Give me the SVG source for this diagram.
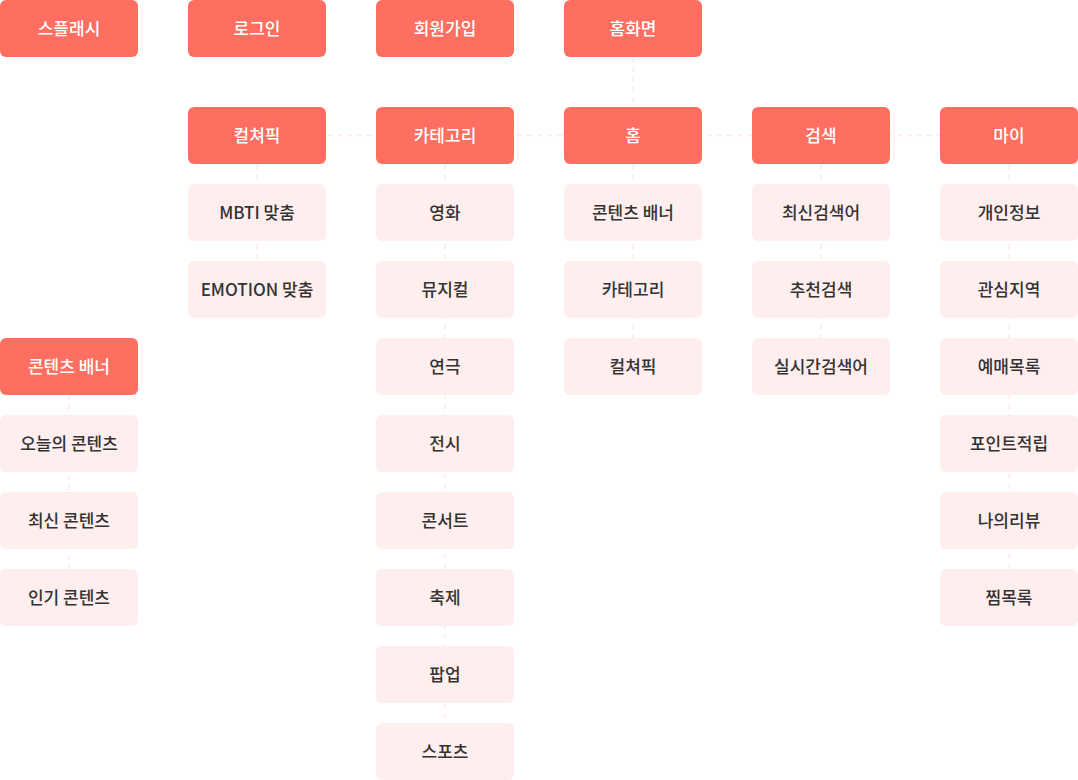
<svg xmlns="http://www.w3.org/2000/svg" width="1078" height="780" viewBox="0 0 1078 780">
<style>
.h rect{fill:#FF6F61}
.s rect{fill:#FFEEEE}
.h text{fill:#FFFFFF}
.s text{fill:#333333}
text{font-family:"Noto Sans CJK KR","Noto Sans",sans-serif;font-size:17px;font-weight:500;text-anchor:middle;dominant-baseline:central}
.c line{stroke:#FDEAE8;stroke-width:1.5;stroke-dasharray:5 5;fill:none}
</style>
<rect width="1078" height="780" fill="#FFFFFF"/>
<g class="c" id="connectors">
<line x1="257" y1="135.5" x2="1009" y2="135.5"/>
<line x1="633" y1="57" x2="633" y2="107"/>
<line x1="257" y1="164" x2="257" y2="261"/>
<line x1="445" y1="164" x2="445" y2="723"/>
<line x1="633" y1="164" x2="633" y2="338"/>
<line x1="821" y1="164" x2="821" y2="338"/>
<line x1="1009" y1="164" x2="1009" y2="569"/>
<line x1="69" y1="395" x2="69" y2="569"/>
</g>
<g id="n-splash" class="h"><rect x="0" y="0" width="138" height="57" rx="6"/><text x="69" y="27">스플래시</text></g>
<g id="n-login" class="h"><rect x="188" y="0" width="138" height="57" rx="6"/><text x="257" y="27">로그인</text></g>
<g id="n-signup" class="h"><rect x="376" y="0" width="138" height="57" rx="6"/><text x="445" y="27">회원가입</text></g>
<g id="n-homescreen" class="h"><rect x="564" y="0" width="138" height="57" rx="6"/><text x="633" y="27">홈화면</text></g>

<g id="n-culture" class="h"><rect x="188" y="107" width="138" height="57" rx="6"/><text x="257" y="134">컬쳐픽</text></g>
<g id="n-category" class="h"><rect x="376" y="107" width="138" height="57" rx="6"/><text x="445" y="134">카테고리</text></g>
<g id="n-home" class="h"><rect x="564" y="107" width="138" height="57" rx="6"/><text x="633" y="134">홈</text></g>
<g id="n-search" class="h"><rect x="752" y="107" width="138" height="57" rx="6"/><text x="821" y="134">검색</text></g>
<g id="n-my" class="h"><rect x="940" y="107" width="138" height="57" rx="6"/><text x="1009" y="134">마이</text></g>

<g id="n-mbti" class="s"><rect x="188" y="184" width="138" height="57" rx="6"/><text x="257" y="211">MBTI 맞춤</text></g>
<g id="n-emotion" class="s"><rect x="188" y="261" width="138" height="57" rx="6"/><text x="257" y="288">EMOTION 맞춤</text></g>

<g id="n-movie" class="s"><rect x="376" y="184" width="138" height="57" rx="6"/><text x="445" y="211">영화</text></g>
<g id="n-musical" class="s"><rect x="376" y="261" width="138" height="57" rx="6"/><text x="445" y="288">뮤지컬</text></g>
<g id="n-play" class="s"><rect x="376" y="338" width="138" height="57" rx="6"/><text x="445" y="365">연극</text></g>
<g id="n-exhibit" class="s"><rect x="376" y="415" width="138" height="57" rx="6"/><text x="445" y="442">전시</text></g>
<g id="n-concert" class="s"><rect x="376" y="492" width="138" height="57" rx="6"/><text x="445" y="519">콘서트</text></g>
<g id="n-festival" class="s"><rect x="376" y="569" width="138" height="57" rx="6"/><text x="445" y="596">축제</text></g>
<g id="n-popup" class="s"><rect x="376" y="646" width="138" height="57" rx="6"/><text x="445" y="673">팝업</text></g>
<g id="n-sports" class="s"><rect x="376" y="723" width="138" height="57" rx="6"/><text x="445" y="750">스포츠</text></g>

<g id="n-home-banner" class="s"><rect x="564" y="184" width="138" height="57" rx="6"/><text x="633" y="211">콘텐츠 배너</text></g>
<g id="n-home-category" class="s"><rect x="564" y="261" width="138" height="57" rx="6"/><text x="633" y="288">카테고리</text></g>
<g id="n-home-culture" class="s"><rect x="564" y="338" width="138" height="57" rx="6"/><text x="633" y="365">컬쳐픽</text></g>

<g id="n-recent-search" class="s"><rect x="752" y="184" width="138" height="57" rx="6"/><text x="821" y="211">최신검색어</text></g>
<g id="n-recommend-search" class="s"><rect x="752" y="261" width="138" height="57" rx="6"/><text x="821" y="288">추천검색</text></g>
<g id="n-realtime-search" class="s"><rect x="752" y="338" width="138" height="57" rx="6"/><text x="821" y="365">실시간검색어</text></g>

<g id="n-profile" class="s"><rect x="940" y="184" width="138" height="57" rx="6"/><text x="1009" y="211">개인정보</text></g>
<g id="n-region" class="s"><rect x="940" y="261" width="138" height="57" rx="6"/><text x="1009" y="288">관심지역</text></g>
<g id="n-booking" class="s"><rect x="940" y="338" width="138" height="57" rx="6"/><text x="1009" y="365">예매목록</text></g>
<g id="n-points" class="s"><rect x="940" y="415" width="138" height="57" rx="6"/><text x="1009" y="442">포인트적립</text></g>
<g id="n-review" class="s"><rect x="940" y="492" width="138" height="57" rx="6"/><text x="1009" y="519">나의리뷰</text></g>
<g id="n-wishlist" class="s"><rect x="940" y="569" width="138" height="57" rx="6"/><text x="1009" y="596">찜목록</text></g>

<g id="n-banner" class="h"><rect x="0" y="338" width="138" height="57" rx="6"/><text x="69" y="365">콘텐츠 배너</text></g>
<g id="n-today" class="s"><rect x="0" y="415" width="138" height="57" rx="6"/><text x="69" y="442">오늘의 콘텐츠</text></g>
<g id="n-latest" class="s"><rect x="0" y="492" width="138" height="57" rx="6"/><text x="69" y="519">최신 콘텐츠</text></g>
<g id="n-popular" class="s"><rect x="0" y="569" width="138" height="57" rx="6"/><text x="69" y="596">인기 콘텐츠</text></g>
</svg>
